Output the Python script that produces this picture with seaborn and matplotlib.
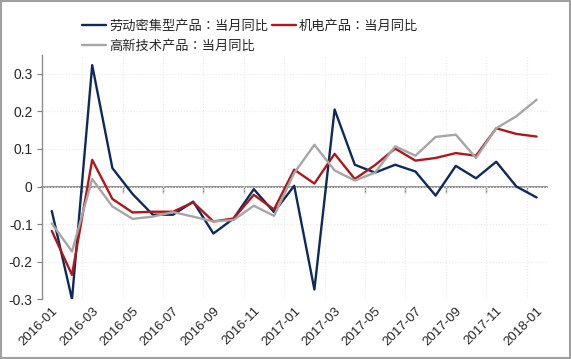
import pandas as pd
import numpy as np
import matplotlib
matplotlib.use('Agg')
import matplotlib.pyplot as plt
import seaborn as sns

# --- Data ---
months = pd.period_range('2016-01', '2018-01', freq='M').strftime('%Y-%m').tolist()

labour = [-0.065, -0.300, 0.323, 0.049, -0.020, -0.075, -0.075, -0.040, -0.125, -0.085,
          -0.007, -0.068, 0.002, -0.274, 0.205, 0.058, 0.037, 0.058, 0.040, -0.024,
          0.055, 0.022, 0.066, 0.000, -0.029]
mech = [-0.118, -0.235, 0.071, -0.033, -0.069, -0.067, -0.067, -0.042, -0.093, -0.085,
        -0.022, -0.061, 0.045, 0.008, 0.087, 0.020, 0.057, 0.101, 0.069, 0.076,
        0.089, 0.082, 0.155, 0.140, 0.133]
hitech = [-0.098, -0.173, 0.020, -0.053, -0.086, -0.080, -0.068, -0.080, -0.093, -0.089,
          -0.051, -0.078, 0.036, 0.111, 0.043, 0.016, 0.037, 0.107, 0.082, 0.132,
          0.138, 0.076, 0.155, 0.187, 0.231]

names = ['劳动密集型产品：当月同比', '机电产品：当月同比', '高新技术产品：当月同比']
colors = ['#0E2A5C', '#B0171C', '#A6A6A6']

sns.set_style('white')
plt.rcParams['font.family'] = ['Liberation Sans', 'Noto Sans CJK TC']

fig, ax = plt.subplots(figsize=(5.71, 3.59), dpi=100)
fig.subplots_adjust(left=41.7 / 571, right=546.7 / 571, top=1 - 55 / 359, bottom=1 - 299.3 / 359)

x = np.arange(len(months))
for vals, name, c in zip([labour, mech, hitech], names, colors):
    sns.lineplot(x=x, y=vals, ax=ax, color=c, linewidth=1.7, label=name)

ax.set_xlim(-0.5, len(months) - 0.5)
ax.set_ylim(-0.3, 0.35)
ax.set_yticks([-0.3, -0.2, -0.1, 0, 0.1, 0.2, 0.3])
ax.set_yticklabels(['-0.3', '-0.2', '-0.1', '0', '0.1', '0.2', '0.3'])
ax.set_xticks(x[::2])
ax.set_xticklabels(months[::2], rotation=45, ha='right', rotation_mode='anchor')
ax.set_xticks(x[1::2] + 0.5, minor=True)
ax.tick_params(axis='x', which='both', length=0, labelsize=9.5, pad=4)
ax.tick_params(axis='y', length=3.5, color='#808080', labelsize=10, pad=3, left=True)

for s in ['top', 'right', 'bottom']:
    ax.spines[s].set_visible(False)
ax.spines['left'].set_color('#8C8C8C')
ax.spines['left'].set_linewidth(1)

ax.grid(axis='y', which='major', color='#EDEAE0', linestyle=':', linewidth=0.8)
ax.grid(axis='x', which='minor', color='#EDEAE0', linestyle=':', linewidth=0.8)
ax.grid(axis='x', which='major', visible=False)

# zero axis with tick marks between categories
zax = ax.secondary_xaxis(0, transform=ax.transData)
zax.set_xticks(x[1::2] + 0.5)
zax.set_xticklabels([])
zax.tick_params(length=4, color='#808080', width=1)
zax.spines['bottom'].set_color('#808080')
zax.spines['bottom'].set_linewidth(1.2)

handles, labels = ax.get_legend_handles_labels()
ax.get_legend().remove()
order = [0, 2, 1]
fig.legend([handles[i] for i in order], [labels[i] for i in order], ncol=2,
           loc='upper left', bbox_to_anchor=(70 / 571, 1 - 8 / 359), frameon=False,
           fontsize=9.5, handlelength=1.8, handletextpad=0.25, columnspacing=0.3,
           labelspacing=0.55)

fig.patches.append(plt.Rectangle((0.002, 0.003), 0.996, 0.994, transform=fig.transFigure,
                                 fill=False, edgecolor='#A0A0A0', linewidth=1.5))

plt.savefig('out.png', dpi=100)
plt.close()
